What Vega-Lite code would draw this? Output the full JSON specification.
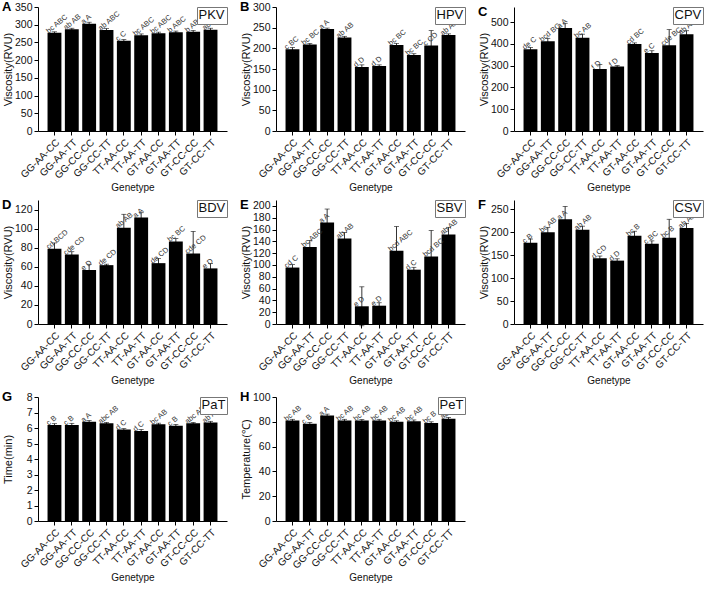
{
  "$schema": "https://vega.github.io/schema/vega-lite/v6.json",
  "padding": {"left": 2, "top": 1, "right": 2, "bottom": 2},
  "datasets": {
    "d": [
      {"panel": "PKV", "genotype": "GG-AA-CC", "value": 277, "err": 3, "label": "bc ABC"},
      {"panel": "PKV", "genotype": "GG-AA-TT", "value": 287, "err": 3, "label": "ab AB"},
      {"panel": "PKV", "genotype": "GG-CC-CC", "value": 303, "err": 4, "label": "a A"},
      {"panel": "PKV", "genotype": "GG-CC-TT", "value": 285, "err": 4, "label": "ab ABC"},
      {"panel": "PKV", "genotype": "TT-AA-CC", "value": 255, "err": 3, "label": "c C"},
      {"panel": "PKV", "genotype": "TT-AA-TT", "value": 270, "err": 4, "label": "bc ABC"},
      {"panel": "PKV", "genotype": "GT-AA-CC", "value": 276, "err": 3, "label": "bc ABC"},
      {"panel": "PKV", "genotype": "GT-AA-TT", "value": 279, "err": 3, "label": "b ABC"},
      {"panel": "PKV", "genotype": "GT-CC-CC", "value": 280, "err": 4, "label": "b ABC"},
      {"panel": "PKV", "genotype": "GT-CC-TT", "value": 286, "err": 4, "label": "ab A"},

      {"panel": "HPV", "genotype": "GG-AA-CC", "value": 198, "err": 4, "label": "c BC"},
      {"panel": "HPV", "genotype": "GG-AA-TT", "value": 209, "err": 3, "label": "bc BC"},
      {"panel": "HPV", "genotype": "GG-CC-CC", "value": 247, "err": 2, "label": "a A"},
      {"panel": "HPV", "genotype": "GG-CC-TT", "value": 226, "err": 3, "label": "ab AB"},
      {"panel": "HPV", "genotype": "TT-AA-CC", "value": 155, "err": 5, "label": "d D"},
      {"panel": "HPV", "genotype": "TT-AA-TT", "value": 157, "err": 3, "label": "d D"},
      {"panel": "HPV", "genotype": "GT-AA-CC", "value": 208, "err": 4, "label": "bc BC"},
      {"panel": "HPV", "genotype": "GT-AA-TT", "value": 184, "err": 3, "label": "bc BC"},
      {"panel": "HPV", "genotype": "GT-CC-CC", "value": 207, "err": 36, "label": "c CD"},
      {"panel": "HPV", "genotype": "GT-CC-TT", "value": 232, "err": 3, "label": "ab AB"},

      {"panel": "CPV", "genotype": "GG-AA-CC", "value": 376, "err": 8, "label": "de C"},
      {"panel": "CPV", "genotype": "GG-AA-TT", "value": 412, "err": 14, "label": "bcd BC"},
      {"panel": "CPV", "genotype": "GG-CC-CC", "value": 474, "err": 21, "label": "a A"},
      {"panel": "CPV", "genotype": "GG-CC-TT", "value": 429, "err": 16, "label": "bc AB"},
      {"panel": "CPV", "genotype": "TT-AA-CC", "value": 285, "err": 21, "label": "f D"},
      {"panel": "CPV", "genotype": "TT-AA-TT", "value": 297, "err": 4, "label": "f D"},
      {"panel": "CPV", "genotype": "GT-AA-CC", "value": 400, "err": 5, "label": "cd BC"},
      {"panel": "CPV", "genotype": "GT-AA-TT", "value": 359, "err": 10, "label": "e C"},
      {"panel": "CPV", "genotype": "GT-CC-CC", "value": 394, "err": 72, "label": "cde BC"},
      {"panel": "CPV", "genotype": "GT-CC-TT", "value": 445, "err": 16, "label": "ab AB"},

      {"panel": "BDV", "genotype": "GG-AA-CC", "value": 79, "err": 6, "label": "cd BCD"},
      {"panel": "BDV", "genotype": "GG-AA-TT", "value": 72.8, "err": 3, "label": "cde CD"},
      {"panel": "BDV", "genotype": "GG-CC-CC", "value": 56.6, "err": 6, "label": "e D"},
      {"panel": "BDV", "genotype": "GG-CC-TT", "value": 61.7, "err": 1, "label": "de CD"},
      {"panel": "BDV", "genotype": "TT-AA-CC", "value": 101, "err": 14, "label": "ab AB"},
      {"panel": "BDV", "genotype": "TT-AA-TT", "value": 111.7, "err": 5, "label": "a A"},
      {"panel": "BDV", "genotype": "GT-AA-CC", "value": 63.8, "err": 5, "label": "de CD"},
      {"panel": "BDV", "genotype": "GT-AA-TT", "value": 86.6, "err": 3, "label": "bc BC"},
      {"panel": "BDV", "genotype": "GT-CC-CC", "value": 74, "err": 23, "label": "cde CD"},
      {"panel": "BDV", "genotype": "GT-CC-TT", "value": 58.3, "err": 5, "label": "e D"},

      {"panel": "SBV", "genotype": "GG-AA-CC", "value": 95.6, "err": 5, "label": "cd C"},
      {"panel": "SBV", "genotype": "GG-AA-TT", "value": 130.6, "err": 11, "label": "bc ABC"},
      {"panel": "SBV", "genotype": "GG-CC-CC", "value": 171.7, "err": 23, "label": "a A"},
      {"panel": "SBV", "genotype": "GG-CC-TT", "value": 145, "err": 10, "label": "ab AB"},
      {"panel": "SBV", "genotype": "TT-AA-CC", "value": 30, "err": 33, "label": "e D"},
      {"panel": "SBV", "genotype": "TT-AA-TT", "value": 31, "err": 5, "label": "e D"},
      {"panel": "SBV", "genotype": "GT-AA-CC", "value": 124, "err": 41, "label": "bcd ABC"},
      {"panel": "SBV", "genotype": "GT-AA-TT", "value": 92, "err": 4, "label": "d C"},
      {"panel": "SBV", "genotype": "GT-CC-CC", "value": 114.4, "err": 44, "label": "bcd BC"},
      {"panel": "SBV", "genotype": "GT-CC-TT", "value": 151.7, "err": 12, "label": "ab AB"},

      {"panel": "CSV", "genotype": "GG-AA-CC", "value": 177, "err": 8, "label": "c B"},
      {"panel": "CSV", "genotype": "GG-AA-TT", "value": 200, "err": 10, "label": "bc AB"},
      {"panel": "CSV", "genotype": "GG-CC-CC", "value": 228, "err": 28, "label": "a A"},
      {"panel": "CSV", "genotype": "GG-CC-TT", "value": 205, "err": 8, "label": "ab AB"},
      {"panel": "CSV", "genotype": "TT-AA-CC", "value": 143, "err": 5, "label": "d CD"},
      {"panel": "CSV", "genotype": "TT-AA-TT", "value": 138, "err": 4, "label": "d D"},
      {"panel": "CSV", "genotype": "GT-AA-CC", "value": 192, "err": 10, "label": "bc B"},
      {"panel": "CSV", "genotype": "GT-AA-TT", "value": 175, "err": 6, "label": "c BC"},
      {"panel": "CSV", "genotype": "GT-CC-CC", "value": 188, "err": 40, "label": "bc B"},
      {"panel": "CSV", "genotype": "GT-CC-TT", "value": 209, "err": 10, "label": "ab AB"},

      {"panel": "PaT", "genotype": "GG-AA-CC", "value": 6.2, "err": 0.08, "label": "c B"},
      {"panel": "PaT", "genotype": "GG-AA-TT", "value": 6.2, "err": 0.1, "label": "c B"},
      {"panel": "PaT", "genotype": "GG-CC-CC", "value": 6.4, "err": 0.08, "label": "a A"},
      {"panel": "PaT", "genotype": "GG-CC-TT", "value": 6.3, "err": 0.06, "label": "abc AB"},
      {"panel": "PaT", "genotype": "TT-AA-CC", "value": 5.9, "err": 0.06, "label": "d C"},
      {"panel": "PaT", "genotype": "TT-AA-TT", "value": 5.8, "err": 0.1, "label": "d C"},
      {"panel": "PaT", "genotype": "GT-AA-CC", "value": 6.25, "err": 0.06, "label": "bc AB"},
      {"panel": "PaT", "genotype": "GT-AA-TT", "value": 6.15, "err": 0.08, "label": "c B"},
      {"panel": "PaT", "genotype": "GT-CC-CC", "value": 6.3, "err": 0.06, "label": "abc AB"},
      {"panel": "PaT", "genotype": "GT-CC-TT", "value": 6.35, "err": 0.08, "label": "ab AB"},

      {"panel": "PeT", "genotype": "GG-AA-CC", "value": 81, "err": 1, "label": "bc AB"},
      {"panel": "PeT", "genotype": "GG-AA-TT", "value": 78.5, "err": 1, "label": "c B"},
      {"panel": "PeT", "genotype": "GG-CC-CC", "value": 85, "err": 1.2, "label": "a A"},
      {"panel": "PeT", "genotype": "GG-CC-TT", "value": 81, "err": 1, "label": "bc AB"},
      {"panel": "PeT", "genotype": "TT-AA-CC", "value": 81, "err": 0.8, "label": "bc AB"},
      {"panel": "PeT", "genotype": "TT-AA-TT", "value": 81, "err": 1, "label": "bc AB"},
      {"panel": "PeT", "genotype": "GT-AA-CC", "value": 80, "err": 0.8, "label": "bc AB"},
      {"panel": "PeT", "genotype": "GT-AA-TT", "value": 80.5, "err": 1, "label": "bc AB"},
      {"panel": "PeT", "genotype": "GT-CC-CC", "value": 79, "err": 1, "label": "bc B"},
      {"panel": "PeT", "genotype": "GT-CC-TT", "value": 82.5, "err": 1, "label": "ab A"}
    ]
  },
  "columns": 3,
  "spacing": {"row": 5, "column": 12},
  "resolve": {
    "scale": {"x": "independent", "y": "independent", "color": "independent"},
    "axis": {"x": "independent", "y": "independent"},
    "legend": {"color": "independent"}
  },
  "concat": [
    {
      "title": "A", "width": 189, "height": 124,
      "data": {"name": "d"},
      "transform": [{"filter": "datum.panel === 'PKV'"}],
      "encoding": {
        "x": {"field": "genotype", "type": "nominal", "sort": null, "title": "Genetype", "scale": {"paddingInner": 0.2, "paddingOuter": 0.55}},
        "y": {"field": "value", "type": "quantitative", "title": "Viscosity(RVU)", "scale": {"domain": [0, 350], "nice": false}, "axis": {"values": [0, 50, 100, 150, 200, 250, 300, 350]}}
      },
      "layer": [
        {"mark": "bar", "encoding": {"color": {"field": "panel", "type": "nominal", "scale": {"range": ["black"]}, "legend": {"symbolSize": 0, "symbolOpacity": 0, "symbolStrokeWidth": 0, "labelOffset": -13}}}},
        {"mark": {"type": "errorbar", "ticks": true, "size": 5, "thickness": 0.8, "color": "black"}, "encoding": {"yError": {"field": "err"}}},
        {"mark": {"type": "text", "angle": 320, "align": "left", "baseline": "bottom", "dx": -5, "dy": -1, "fontSize": 7.5, "fill": "#333"}, "encoding": {"text": {"field": "label"}}}
      ]
    },
    {
      "title": "B", "width": 189, "height": 124,
      "data": {"name": "d"},
      "transform": [{"filter": "datum.panel === 'HPV'"}],
      "encoding": {
        "x": {"field": "genotype", "type": "nominal", "sort": null, "title": "Genetype", "scale": {"paddingInner": 0.2, "paddingOuter": 0.55}},
        "y": {"field": "value", "type": "quantitative", "title": "Viscosity(RVU)", "scale": {"domain": [0, 300], "nice": false}, "axis": {"values": [0, 50, 100, 150, 200, 250, 300]}}
      },
      "layer": [
        {"mark": "bar", "encoding": {"color": {"field": "panel", "type": "nominal", "scale": {"range": ["black"]}, "legend": {"symbolSize": 0, "symbolOpacity": 0, "symbolStrokeWidth": 0, "labelOffset": -13}}}},
        {"mark": {"type": "errorbar", "ticks": true, "size": 5, "thickness": 0.8, "color": "black"}, "encoding": {"yError": {"field": "err"}}},
        {"mark": {"type": "text", "angle": 320, "align": "left", "baseline": "bottom", "dx": -5, "dy": -1, "fontSize": 7.5, "fill": "#333"}, "encoding": {"text": {"field": "label"}}}
      ]
    },
    {
      "title": "C", "width": 189, "height": 124,
      "data": {"name": "d"},
      "transform": [{"filter": "datum.panel === 'CPV'"}],
      "encoding": {
        "x": {"field": "genotype", "type": "nominal", "sort": null, "title": "Genetype", "scale": {"paddingInner": 0.2, "paddingOuter": 0.55}},
        "y": {"field": "value", "type": "quantitative", "title": "Viscosity(RVU)", "scale": {"domain": [0, 570], "nice": false}, "axis": {"values": [0, 100, 200, 300, 400, 500]}}
      },
      "layer": [
        {"mark": "bar", "encoding": {"color": {"field": "panel", "type": "nominal", "scale": {"range": ["black"]}, "legend": {"symbolSize": 0, "symbolOpacity": 0, "symbolStrokeWidth": 0, "labelOffset": -13}}}},
        {"mark": {"type": "errorbar", "ticks": true, "size": 5, "thickness": 0.8, "color": "black"}, "encoding": {"yError": {"field": "err"}}},
        {"mark": {"type": "text", "angle": 320, "align": "left", "baseline": "bottom", "dx": -5, "dy": -1, "fontSize": 7.5, "fill": "#333"}, "encoding": {"text": {"field": "label"}}}
      ]
    },
    {
      "title": "D", "width": 189, "height": 124,
      "data": {"name": "d"},
      "transform": [{"filter": "datum.panel === 'BDV'"}],
      "encoding": {
        "x": {"field": "genotype", "type": "nominal", "sort": null, "title": "Genetype", "scale": {"paddingInner": 0.2, "paddingOuter": 0.55}},
        "y": {"field": "value", "type": "quantitative", "title": "Viscosity(RVU)", "scale": {"domain": [0, 130], "nice": false}, "axis": {"values": [0, 20, 40, 60, 80, 100, 120]}}
      },
      "layer": [
        {"mark": "bar", "encoding": {"color": {"field": "panel", "type": "nominal", "scale": {"range": ["black"]}, "legend": {"symbolSize": 0, "symbolOpacity": 0, "symbolStrokeWidth": 0, "labelOffset": -13}}}},
        {"mark": {"type": "errorbar", "ticks": true, "size": 5, "thickness": 0.8, "color": "black"}, "encoding": {"yError": {"field": "err"}}},
        {"mark": {"type": "text", "angle": 320, "align": "left", "baseline": "bottom", "dx": -5, "dy": -1, "fontSize": 7.5, "fill": "#333"}, "encoding": {"text": {"field": "label"}}}
      ]
    },
    {
      "title": "E", "width": 189, "height": 124,
      "data": {"name": "d"},
      "transform": [{"filter": "datum.panel === 'SBV'"}],
      "encoding": {
        "x": {"field": "genotype", "type": "nominal", "sort": null, "title": "Genetype", "scale": {"paddingInner": 0.2, "paddingOuter": 0.55}},
        "y": {"field": "value", "type": "quantitative", "title": "Viscosity(RVU)", "scale": {"domain": [0, 210], "nice": false}, "axis": {"values": [0, 20, 40, 60, 80, 100, 120, 140, 160, 180, 200]}}
      },
      "layer": [
        {"mark": "bar", "encoding": {"color": {"field": "panel", "type": "nominal", "scale": {"range": ["black"]}, "legend": {"symbolSize": 0, "symbolOpacity": 0, "symbolStrokeWidth": 0, "labelOffset": -13}}}},
        {"mark": {"type": "errorbar", "ticks": true, "size": 5, "thickness": 0.8, "color": "black"}, "encoding": {"yError": {"field": "err"}}},
        {"mark": {"type": "text", "angle": 320, "align": "left", "baseline": "bottom", "dx": -5, "dy": -1, "fontSize": 7.5, "fill": "#333"}, "encoding": {"text": {"field": "label"}}}
      ]
    },
    {
      "title": "F", "width": 189, "height": 124,
      "data": {"name": "d"},
      "transform": [{"filter": "datum.panel === 'CSV'"}],
      "encoding": {
        "x": {"field": "genotype", "type": "nominal", "sort": null, "title": "Genetype", "scale": {"paddingInner": 0.2, "paddingOuter": 0.55}},
        "y": {"field": "value", "type": "quantitative", "title": "Viscosity(RVU)", "scale": {"domain": [0, 270], "nice": false}, "axis": {"values": [0, 50, 100, 150, 200, 250]}}
      },
      "layer": [
        {"mark": "bar", "encoding": {"color": {"field": "panel", "type": "nominal", "scale": {"range": ["black"]}, "legend": {"symbolSize": 0, "symbolOpacity": 0, "symbolStrokeWidth": 0, "labelOffset": -13}}}},
        {"mark": {"type": "errorbar", "ticks": true, "size": 5, "thickness": 0.8, "color": "black"}, "encoding": {"yError": {"field": "err"}}},
        {"mark": {"type": "text", "angle": 320, "align": "left", "baseline": "bottom", "dx": -5, "dy": -1, "fontSize": 7.5, "fill": "#333"}, "encoding": {"text": {"field": "label"}}}
      ]
    },
    {
      "title": "G", "width": 189, "height": 124,
      "data": {"name": "d"},
      "transform": [{"filter": "datum.panel === 'PaT'"}],
      "encoding": {
        "x": {"field": "genotype", "type": "nominal", "sort": null, "title": "Genetype", "scale": {"paddingInner": 0.2, "paddingOuter": 0.55}},
        "y": {"field": "value", "type": "quantitative", "title": "Time(min)", "scale": {"domain": [0, 8], "nice": false}, "axis": {"values": [0, 1, 2, 3, 4, 5, 6, 7, 8]}}
      },
      "layer": [
        {"mark": "bar", "encoding": {"color": {"field": "panel", "type": "nominal", "scale": {"range": ["black"]}, "legend": {"symbolSize": 0, "symbolOpacity": 0, "symbolStrokeWidth": 0, "labelOffset": -13}}}},
        {"mark": {"type": "errorbar", "ticks": true, "size": 5, "thickness": 0.8, "color": "black"}, "encoding": {"yError": {"field": "err"}}},
        {"mark": {"type": "text", "angle": 320, "align": "left", "baseline": "bottom", "dx": -5, "dy": -1, "fontSize": 7.5, "fill": "#333"}, "encoding": {"text": {"field": "label"}}}
      ]
    },
    {
      "title": "H", "width": 189, "height": 124,
      "data": {"name": "d"},
      "transform": [{"filter": "datum.panel === 'PeT'"}],
      "encoding": {
        "x": {"field": "genotype", "type": "nominal", "sort": null, "title": "Genetype", "scale": {"paddingInner": 0.2, "paddingOuter": 0.55}},
        "y": {"field": "value", "type": "quantitative", "title": "Temperature(℃)", "scale": {"domain": [0, 100], "nice": false}, "axis": {"values": [0, 20, 40, 60, 80, 100]}}
      },
      "layer": [
        {"mark": "bar", "encoding": {"color": {"field": "panel", "type": "nominal", "scale": {"range": ["black"]}, "legend": {"symbolSize": 0, "symbolOpacity": 0, "symbolStrokeWidth": 0, "labelOffset": -13}}}},
        {"mark": {"type": "errorbar", "ticks": true, "size": 5, "thickness": 0.8, "color": "black"}, "encoding": {"yError": {"field": "err"}}},
        {"mark": {"type": "text", "angle": 320, "align": "left", "baseline": "bottom", "dx": -5, "dy": -1, "fontSize": 7.5, "fill": "#333"}, "encoding": {"text": {"field": "label"}}}
      ]
    }
  ],
  "config": {
    "font": "Liberation Sans",
    "view": {"stroke": null},
    "axis": {
      "domainColor": "black", "tickColor": "black", "labelColor": "#111", "titleColor": "#111",
      "labelFontSize": 10.5, "titleFontSize": 11, "titleFontWeight": "normal",
      "grid": false, "tickSize": 4, "labelPadding": 2
    },
    "axisX": {"labelAngle": -45, "labelFontSize": 10, "titlePadding": 2, "titleFontSize": 10},
    "axisY": {"minExtent": 22, "maxExtent": 22, "titlePadding": 3},
    "title": {"anchor": "start", "frame": "bounds", "fontSize": 13, "fontWeight": "bold", "offset": -12, "color": "black"},
    "legend": {
      "title": null, "orient": "top-right", "offset": 0,
      "symbolSize": 0, "symbolOpacity": 0, "symbolStrokeWidth": 0,
      "labelFontSize": 13, "labelColor": "#111", "padding": 1.5,
      "strokeColor": "#777", "fillColor": "white"
    }
  }
}
